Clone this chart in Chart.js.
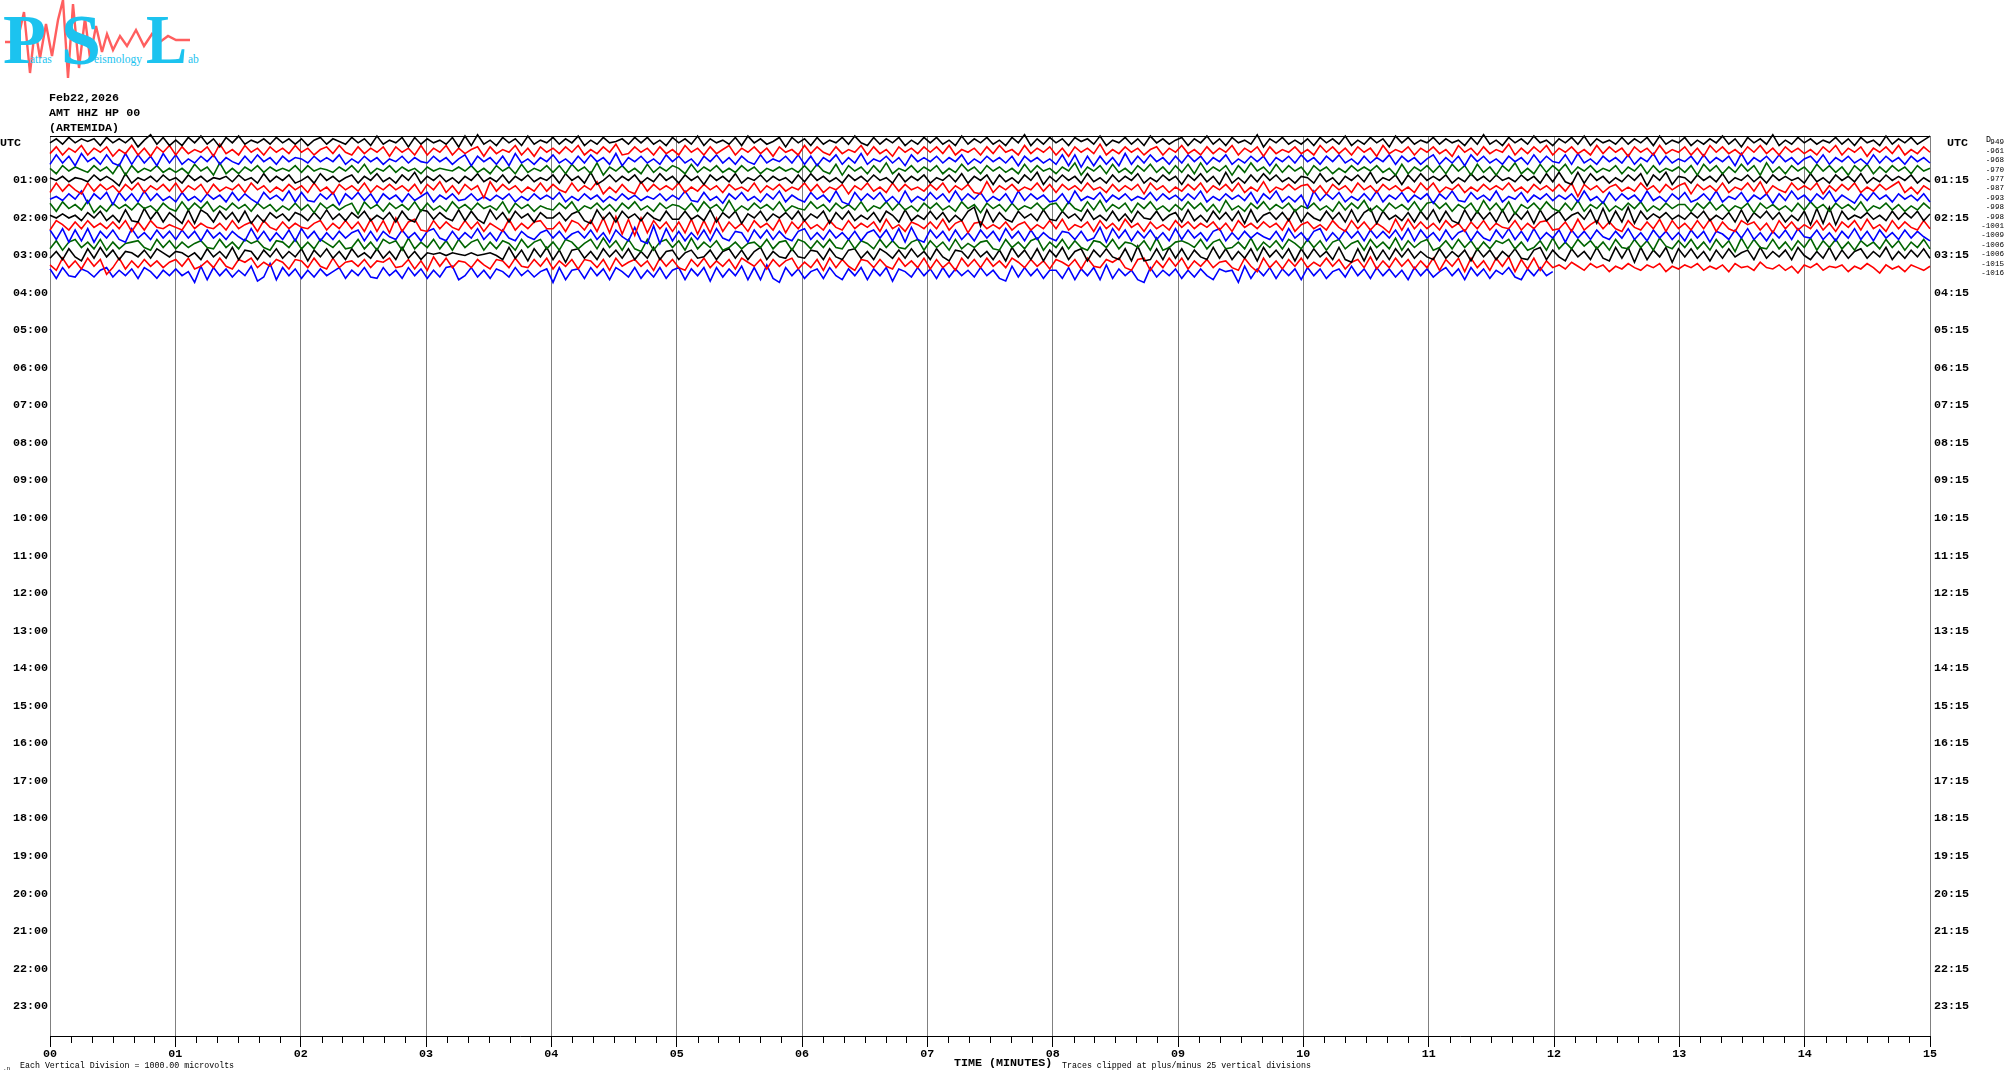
<!DOCTYPE html>
<html>
<head>
<meta charset="utf-8">
<title>AMT HHZ HP 00 helicorder</title>
<script src="https://cdn.jsdelivr.net/npm/chart.js@4"></script>
<style>
  html, body { margin: 0; padding: 0; background: #fff; }
  #wrap { position: relative; width: 2010px; height: 1080px; overflow: hidden; }
  canvas { position: absolute; left: 0; top: 0; }
  .lbl { position: absolute; white-space: pre; color: #000; font-family: "Liberation Mono", monospace; line-height: 1; }
  .big { font-size: 11.7px; font-weight: bold; }
  .small { font-size: 8.3px; }
  #logo { position: absolute; left: 0; top: 0; }
</style>
</head>
<body>
<div id="wrap">
  <svg id="logo" width="204" height="82" viewBox="0 0 204 82">
    <polyline fill="none" stroke="#ff5f5f" stroke-width="2.4" points="5,42 14,42 19,34 24,12 30,73 35,28 40,58 46,24 52,56 58,20 63,0 68,78 73,4 79,68 85,18 90,58 96,26 102,52 107,34 113,50 120,36 127,46 136,30 144,46 152,34 160,42 168,36 176,40 190,40"/>
    <g fill="#1cc3ef" font-family="Liberation Serif, serif" font-weight="bold">
      <text x="3" y="63" font-size="70" textLength="43" lengthAdjust="spacingAndGlyphs">P</text>
      <text x="61" y="64" font-size="72">S</text>
      <text x="146" y="63" font-size="70" textLength="41" lengthAdjust="spacingAndGlyphs">L</text>
    </g>
    <g fill="#1cc3ef" font-family="Liberation Serif, serif" font-size="11.5">
      <text x="30" y="63">atras</text>
      <text x="94" y="63">eismology</text>
      <text x="188" y="63">ab</text>
    </g>
  </svg>
  <canvas id="heli" width="2010" height="1080"></canvas>
  <div class="lbl big" style="left:49px;top:93px">Feb22,2026</div>
  <div class="lbl big" style="left:49px;top:108px">AMT HHZ HP 00</div>
  <div class="lbl big" style="left:49px;top:123px">(ARTEMIDA)</div>
  <div class="lbl big" style="left:0;top:138px">UTC</div>
  <div class="lbl big" style="left:1947px;top:138px">UTC</div>
  <div class="lbl small" style="left:1986px;top:136px">D</div>
  <div class="lbl big" style="left:954px;top:1058px">TIME (MINUTES)</div>
  <div class="lbl small" style="left:1062px;top:1062px">Traces clipped at plus/minus 25 vertical divisions</div>
  <div class="lbl small" style="left:20px;top:1062px">Each Vertical Division = 1000.00 microvolts</div>
  <div class="lbl" style="left:3px;top:1066px;font-size:6px">.n</div>
</div>
<script>
const hourLabelsLeft = ["01:00","02:00","03:00","04:00","05:00","06:00","07:00","08:00","09:00","10:00","11:00","12:00","13:00","14:00","15:00","16:00","17:00","18:00","19:00","20:00","21:00","22:00","23:00"];
const hourLabelsRight = ["01:15","02:15","03:15","04:15","05:15","06:15","07:15","08:15","09:15","10:15","11:15","12:15","13:15","14:15","15:15","16:15","17:15","18:15","19:15","20:15","21:15","22:15","23:15"];
const rowOffsets = ["949","-961","-968","-970","-977","-987","-993","-998","-998","-1001","-1009","-1006","-1006","-1015","-1016"];
const traceColors = ["#000000","#ff0000","#0000ff","#006400"];

// one value per 3 seconds, deviation from the row baseline
const trace0000 = [
-1,2,-2,3,-1,2,0,2,-3,3,-1,2,-1,3,-4,1,5,-2,3,-3,
1,-3,3,-1,4,-2,2,-4,3,-1,4,-2,1,-1,2,-2,3,-1,2,-2,
2,-3,1,3,-2,2,0,-2,3,-1,2,-3,4,-2,1,-1,3,-4,3,-2,
2,-1,1,-2,3,-4,4,-3,5,-2,1,-3,3,-1,2,-3,4,-2,1,-1,
3,-2,2,-1,4,-3,1,-2,3,-1,0,2,-2,3,-1,3,-2,1,-3,3,
-1,2,-2,4,-3,2,-1,1,-2,3,-3,4,-1,2,-2,0,3,-4,3,-1,
2,-3,3,-2,1,-1,3,-2,4,-1,-3,3,-2,2,-1,3,-3,1,-2,3,
-1,3,-2,1,-3,4,-2,2,-1,3,-2,1,-3,3,-1,5,-3,2,-2,3,
-1,2,-3,3,0,2,-2,4,-3,1,-1,3,-2,2,-3,4,-1,2,-2,1,
3,-3,2,-1,4,-2,2,-3,3,-1,1,-2,5,-4,2,-1,3,-2,1,-2,
2,-3,3,-1,2,-2,4,-3,1,-2,3,-1,2,-4,4,-1,3,-2,1,-1,
3,-2,2,-1,1,-3,3,-2,5,-2,1,-3,3,-1,2,-2,4,-1,1,-3,
2,-1,3,-2,4,-3,2,-1,1,-2,3,-2,2,-1,3,-3,4,-2,1,-1,
3,-3,1,-2,2,-1,4,-2,2,-4,3,-1,2,-2,5,-3,1,-2,3,-1,
2,-2,1,-1,3,-2,2,-3,3,-1,1,-3,4,-2,2,-1,3,-2,1,4];
const trace0015 = [
-2,3,-3,2,-1,4,-3,2,-1,3,-4,1,-2,4,-3,2,-4,3,-1,4,
-3,3,-2,1,-1,3,-4,5,-2,1,-3,4,-1,2,-3,3,-1,2,-2,4,
-1,2,-3,1,3,-2,4,-1,-3,3,-2,2,-1,3,-4,3,-1,2,-3,4,
-3,2,-1,4,-3,2,-2,1,3,-4,3,-2,1,-1,4,-3,2,-4,3,-1,
2,-2,3,-1,4,-3,1,-2,3,-1,5,-3,-2,3,-1,2,-3,3,-2,1,
-3,4,-1,2,-3,3,-2,1,4,-3,2,-1,3,-2,2,-4,3,-1,1,-3,
4,-2,3,-1,-3,3,-2,1,-1,4,-3,3,-2,1,-4,3,-1,2,-2,3,
-1,3,-2,4,-3,1,-1,2,-3,3,-2,4,-1,1,-3,4,-2,2,-1,3,
-3,2,-4,3,-1,2,-2,5,-3,1,-2,3,-1,2,-3,1,3,-3,2,-1,
4,-2,1,-3,3,-2,2,-1,4,-3,2,-1,3,-4,3,-2,1,-1,3,-2,
1,-3,4,-1,3,-2,2,-3,3,-1,2,-4,4,-2,1,-1,3,-3,2,-1,
3,-2,1,-4,4,-1,2,-3,3,-2,1,-1,5,-3,2,-2,3,-1,4,-3,
2,-1,3,-2,1,-3,4,-2,3,-1,2,-4,3,-1,2,-3,4,-2,1,-1,
3,-3,2,-4,4,-1,3,-2,1,-3,3,-1,4,-2,2,-3,3,-1,2,-2,
1,-3,3,-1,4,-3,2,-1,3,-4,2,-1,3,-2,4,-3,1,-2,3,-1];
const trace0030 = [
-3,4,-2,3,-4,5,-1,2,-3,4,-2,-4,5,-3,4,-2,3,-4,5,-2,
4,-3,1,-2,3,-1,4,-3,2,-1,-3,3,-2,4,-1,2,-3,3,-1,2,
1,-2,3,-1,2,-1,4,-3,1,-2,3,-1,2,-3,1,-1,3,-2,2,-1,
-2,3,-1,2,-3,1,4,-4,3,-1,2,-3,3,-4,5,-2,1,-3,2,-1,
4,-2,1,-3,3,-2,4,-1,2,-3,5,-4,2,-1,3,-2,1,-3,4,-1,
3,-2,1,-4,3,-1,4,-2,2,-3,3,-1,-3,4,-2,1,-1,3,-2,4,
-3,3,-4,2,-1,4,-3,2,-2,5,-3,1,-1,3,-2,2,-4,4,-1,2,
-1,3,-2,2,-1,4,-3,1,-2,3,-1,2,-2,3,-4,3,-1,2,-2,1,
-3,4,-4,4,-5,3,-4,3,-3,2,-4,5,-3,3,-2,4,-1,2,-3,3,
-2,4,-1,3,-3,2,-1,4,-3,1,-2,3,-1,3,-4,2,-1,3,-2,4,
-1,2,-3,3,-1,4,-2,1,-3,3,-2,2,-1,4,-3,3,-1,2,-3,1,
4,-3,2,-2,3,-4,4,-1,3,-2,1,-3,3,-1,2,-3,4,-2,3,-1,
-2,4,-3,5,-2,1,-3,3,-1,2,-2,4,-3,2,-1,5,-3,3,-2,1,
-1,3,-3,4,-2,2,-1,3,-4,5,-3,2,-1,3,-2,4,-1,2,-3,1,
3,-2,4,-3,2,-1,3,-2,1,-3,4,-2,3,-1,2,-3,3,-1,2,-2];
const trace0045 = [
1,-3,3,-1,2,0,-2,3,-1,2,-3,4,-4,3,-2,1,-1,3,-2,1,
-2,1,-3,4,-1,2,-4,5,-3,1,-3,2,-1,3,-2,2,-1,1,-1,3,
-2,3,-1,1,0,-2,2,-1,3,-2,4,-3,1,-1,3,-2,2,-1,1,-3,
2,-1,1,0,-1,2,-1,3,-2,1,-3,3,-1,2,-3,4,-2,1,-1,3,
-2,3,-3,4,-1,2,-3,5,-4,2,-1,3,-2,1,-3,4,-2,2,-1,3,
1,-3,4,-2,2,-1,3,-2,1,-2,3,-1,2,-3,1,-1,2,-1,1,-2,
3,-2,4,-1,-3,4,-4,3,-1,2,-3,3,-2,5,-3,1,-1,3,-2,2,
-1,3,-3,1,-2,4,-1,2,-3,3,-1,2,-2,1,-3,4,-2,3,-1,1,
-3,2,-1,5,-4,2,-1,3,-3,4,-2,1,-3,3,-1,4,-2,2,-3,3,
-2,4,-3,5,-2,2,-1,3,-4,3,-2,5,-1,2,-3,4,-2,3,-1,2,
-4,3,-1,2,-3,1,-2,3,-1,2,-1,3,-2,1,-4,4,-3,2,-1,3,
-2,3,-3,4,-1,3,-4,4,-2,2,-4,3,-1,5,-3,1,-3,4,-2,3,
-1,4,-3,2,-1,3,-2,1,-1,3,-3,2,-1,4,-3,3,-2,1,-1,2,
-2,3,-4,4,-1,3,-3,2,-2,4,-1,3,-4,5,-2,2,-3,3,-1,2,
-3,4,-1,3,-2,2,-4,3,-1,4,-3,2,-2,3,-1,2,-3,3,-1,1];
const trace0100 = [
1,-1,2,-2,1,0,-2,3,-1,2,-1,-5,4,-3,1,-1,2,-2,3,-1,
1,-3,3,-1,2,-2,1,0,2,-2,3,-1,1,-3,4,-2,2,-1,3,-3,
-1,2,-3,4,-1,2,-2,1,3,-3,2,-1,4,-2,1,-3,3,-1,5,-3,
2,-1,3,-2,1,-3,2,-1,4,-2,1,-2,3,-3,2,-1,3,-2,1,-1,
3,-3,4,-1,2,-3,5,-4,-1,3,-2,2,-1,3,-3,1,-2,4,-1,2,
-3,3,-1,2,-4,3,-1,2,-2,4,-3,1,-1,3,-2,2,-1,1,-3,3,
-2,4,-1,2,-2,1,-3,3,-1,2,-2,3,-1,1,-3,4,-2,2,-1,3,
-3,1,-1,3,-2,4,-3,2,-1,3,-4,3,-2,1,-3,3,-1,5,-4,2,
-2,3,-1,2,-3,4,-2,1,-3,3,-2,2,-1,4,-3,1,-2,3,-1,2,
-4,3,-1,4,-2,2,-4,5,-3,1,-3,3,-2,4,-1,3,-2,1,-3,2,
1,-3,4,-2,1,-4,2,-1,3,-2,5,-3,1,-1,3,-4,3,-2,4,-1,
2,-1,3,-3,1,-2,4,-1,2,-2,3,-1,1,-2,3,-1,2,-3,4,-2,
5,-2,-4,5,-3,4,-1,2,-3,1,-2,3,-1,4,-5,3,-1,5,-4,2,
1,-3,3,-1,2,-2,4,-3,1,-1,3,-2,2,-3,3,-1,2,-1,1,-3,
4,-2,1,-3,3,-1,2,-2,4,-3,1,-2,3,-1,2,-1,3,-3,1,-2];
const trace0115 = [
-3,4,-2,3,-1,-4,4,-2,3,-1,2,-3,3,-1,4,-3,2,-1,3,-2,
4,-3,2,-1,3,-4,3,-2,1,-1,3,-3,4,-1,2,-3,1,-2,3,-1,
2,-3,4,-2,1,-4,3,-1,2,-2,4,-3,2,-1,3,-1,2,-2,3,-4,
3,-1,5,-3,2,-4,3,-1,2,-7,5,-2,3,-1,2,-3,1,-2,4,-2,
3,-1,-3,4,-2,2,-1,5,-4,1,-3,3,-2,-4,5,-2,3,-1,2,-1,
4,-3,1,-2,3,-1,2,-3,3,-1,1,-2,4,-3,2,-1,3,-2,1,-1,
4,-2,3,-3,1,-1,3,-4,2,-1,4,-2,1,-3,4,-2,3,-1,1,-2,
3,-1,4,-3,2,-1,3,-3,-4,5,-3,2,-1,3,-2,1,-1,4,-2,3,
-3,3,-1,2,-2,4,-1,1,-3,3,-2,2,-1,3,-4,4,-1,2,-3,1,
-2,3,-1,4,-3,2,-1,3,-2,4,-3,1,-2,5,-3,1,-1,3,-1,2,
3,-3,2,-4,3,-1,2,-3,4,-1,2,-3,3,-1,2,-2,1,-3,4,-1,
4,-3,1,-1,3,-3,1,-2,3,-1,2,-1,4,-2,1,-3,3,-1,2,-2,
3,-2,4,-6,3,-1,2,-3,1,3,-2,1,-2,4,-1,2,-3,3,-1,2,
4,-4,3,-1,2,-2,4,-3,1,-1,4,-2,5,-4,2,-1,-3,4,-1,2,
-1,4,-4,2,-2,3,-1,4,-3,1,-2,3,-1,2,5,-3,1,-4,2,-1];
const trace0130 = [
-1,1,-2,3,-1,5,-4,3,-1,4,-5,4,-2,3,-3,5,-2,3,-2,1,
-3,4,-2,1,-3,3,-1,2,-3,4,-2,3,-1,-4,4,-1,2,-2,5,-3,
4,-2,-3,3,-1,4,-5,3,-1,4,-2,3,-4,3,-1,2,-3,3,-2,1,
4,-3,2,-1,3,-2,-1,3,-2,1,-2,2,-1,3,-3,1,-2,3,-1,2,
-1,4,-3,1,-2,3,-1,2,-3,1,-2,3,-1,2,-2,1,-1,3,-2,2,
-1,5,-2,-3,4,-2,1,-4,3,-1,4,-2,1,-3,3,-1,5,-3,2,-1,
-3,4,-1,2,-3,5,-3,-5,4,-2,3,-1,4,-3,1,-4,5,-3,1,-2,
4,-1,3,-3,5,-2,3,-1,4,-3,1,-2,3,-4,5,-2,3,-1,2,-3,
-2,3,-4,5,-2,1,-1,4,-3,2,-1,3,-2,1,-1,4,-2,3,-1,2,
-2,3,-1,5,-3,1,-2,3,-1,2,-2,4,-4,3,-1,5,-3,1,-3,2,
-7,5,-2,3,-1,4,-3,1,-2,3,-2,5,-3,2,-1,4,-3,2,-1,3,
-4,3,-1,5,-2,-3,4,-1,2,-2,5,-3,1,-1,4,-3,2,-1,3,-2,
2,-1,3,-3,5,-2,1,-4,4,-2,3,-1,2,-3,5,-2,1,-3,3,-1,
4,-3,-1,3,-2,5,-3,1,-1,4,-3,2,-1,3,-4,3,-2,5,-1,2,
-3,3,-1,5,-3,2,-1,-4,3,-2,4,-1,2,-3,3,-1,2,-2,3,-3];
const trace0145 = [
3,-3,4,-1,2,-2,5,-4,1,-3,3,-1,2,-2,3,-1,1,-3,3,-1,
-3,4,-2,3,-1,4,-3,1,-2,3,-1,2,-3,3,-1,2,-3,1,-2,3,
-2,2,-4,3,-1,2,-2,1,3,-5,4,-1,2,-3,3,-1,2,-2,4,-3,
3,-2,1,-3,4,-1,2,-2,3,-1,1,-2,4,-4,3,-1,2,-3,1,-1,
-2,3,-1,4,-3,1,-1,3,-2,2,-3,3,-1,4,-2,1,-3,3,-1,2,
1,-2,3,-3,4,-1,2,-3,5,-3,1,-2,3,-1,2,-2,4,-3,1,-1,
-2,4,-1,2,-3,3,-1,2,-2,4,-3,1,-1,4,-2,3,-2,1,-3,3,
-1,3,-2,1,-3,4,-1,2,-4,3,-1,2,-3,3,-2,1,-1,3,-2,2,
3,-3,4,-1,-3,4,-2,5,-3,2,-1,3,-4,3,-1,4,-2,1,-3,2,
-2,4,-1,3,-3,2,-4,5,-2,1,-3,3,-1,4,-2,2,-1,3,-3,1,
-1,3,-2,1,-3,4,-2,3,-1,5,-3,1,-3,3,-1,2,-2,4,-3,3,
4,-1,3,-3,2,-1,3,-4,5,-2,3,-3,4,-5,2,-1,3,-2,4,-1,
-3,3,-2,5,-3,2,-1,4,-3,1,-2,3,-1,4,-3,1,-2,3,-1,2,
2,-3,3,-1,4,-2,2,-3,1,-1,3,-4,3,-1,2,-2,1,-3,3,-2,
4,-1,2,-3,3,-1,2,-2,4,-3,1,-1,3,-2,2,-3,1,-2,3,-1];
const trace0200 = [
1,-1,2,-1,1,-3,3,-1,4,-3,1,-4,5,-3,-4,6,-2,4,-4,3,
-1,-5,5,-5,5,2,-4,4,-2,3,-4,4,-5,1,-4,3,-1,2,-3,3,
1,-3,3,-2,5,-2,2,-3,3,-1,4,-3,1,-2,3,-4,4,-2,-4,5,
4,-2,3,-1,-3,5,-3,4,-2,-5,5,-2,3,-4,4,-1,2,-4,3,-1,
-1,3,-3,2,4,-3,-5,5,-2,3,-4,4,-1,2,-3,3,-1,-3,4,-2,
-2,4,-2,1,-3,5,-4,3,-1,4,-5,2,-1,4,-3,2,-1,3,-2,4,
-3,2,-1,4,-5,3,-2,4,-3,1,-2,3,-4,4,1,-4,5,-3,1,-2,
4,-2,3,-4,1,-3,4,7,-7,5,-4,3,-2,-4,4,-1,2,-3,5,-2,
-3,4,-1,2,-3,5,-2,1,-3,4,-3,2,-4,4,-1,-2,4,-3,1,3,
-4,5,-3,1,-4,4,-2,3,-3,4,-5,5,-4,1,3,-2,3,-3,5,-4,
3,-1,-3,4,-2,3,-4,5,-4,3,6,-5,4,-2,1,-3,3,-4,4,-2,
5,-4,4,-3,-5,5,-3,4,-2,3,-4,5,-4,3,-2,4,-5,5,-3,1,
4,-3,1,3,-2,5,-5,6,-5,4,-4,7,-5,4,-2,2,-1,3,-2,1,
-2,3,-1,4,-3,1,-2,3,-4,5,-4,3,-1,4,-2,3,-4,1,-3,4,
-6,6,-5,7,-6,4,-2,1,-1,3,-2,1,-3,4,-2,3,-1,4,-3,2];
const trace0215 = [
-3,4,1,-3,3,-2,4,-1,2,-2,3,-2,4,-4,3,-3,4,-1,-2,1,
-1,-3,4,-2,2,-1,-2,2,-3,4,-2,1,3,-4,4,-1,-3,3,-2,2,
-1,-2,2,4,-3,2,-2,4,-2,3,-4,5,-4,4,-5,6,-4,3,5,-3,
-4,4,-2,3,-1,-3,4,-2,3,-4,2,-1,-4,5,-3,2,-2,3,4,-2,
-2,3,-4,4,2,-3,4,-4,6,-5,7,-6,5,-7,6,-5,4,-2,3,-4,
3,-5,5,-6,4,-5,6,-4,3,-2,2,-4,4,-1,2,-3,5,-5,3,-2,
4,-2,1,-3,4,-1,-3,4,-2,2,-1,3,-4,5,-2,1,-4,3,1,-2,
3,-2,5,-3,2,4,-5,2,3,-2,1,-2,3,-3,1,3,-3,1,-2,4,
-2,5,-3,1,-1,3,-4,4,-2,2,-3,5,-1,2,-4,3,-2,1,-3,4,
-1,3,-2,2,-1,3,-3,2,-4,4,-1,2,-2,3,-1,2,-3,5,-4,1,
3,-2,1,-3,4,-1,-4,4,-2,3,-3,2,-1,-5,5,-3,5,-2,3,-2,
2,-3,4,-1,2,-4,3,-2,4,-3,2,-1,-2,4,-3,2,-2,3,4,-3,
-2,3,-4,5,-3,1,4,-2,3,-2,-4,4,-1,-3,3,-2,5,-4,4,-2,
2,-3,4,-2,5,-4,3,-2,-4,4,1,3,-3,2,-5,4,-2,3,-3,1,
-2,4,-3,2,-4,3,-1,4,-3,5,-2,1,-4,4,-2,3,-1,-3,4,-2];
const trace0230 = [
4,-3,5,-5,4,-4,5,-5,3,-2,4,-3,-5,5,-2,2,-3,4,-2,3,
-3,4,-2,3,-4,4,-2,2,-3,3,-1,-4,5,-3,3,-4,2,-3,4,-4,
5,-2,3,-4,2,-3,3,-2,2,4,-4,3,-4,3,-1,-3,4,-2,2,-4,
3,5,-2,-4,3,-3,2,-2,5,-3,2,-4,4,-2,-4,3,-1,-3,2,4,
-2,3,-3,1,3,-2,4,-3,2,-5,4,-1,-4,6,-4,-6,7,-6,5,-4,
3,-4,2,-3,4,-4,5,-2,-4,3,2,-5,4,-2,4,-3,3,-2,-4,3,
5,-3,2,-3,4,-2,2,-3,3,-4,2,4,-2,4,-4,5,-5,6,-3,-5,
4,-2,3,-4,4,-3,2,-4,4,-2,3,-4,5,-2,3,-4,4,-3,2,-2,
-4,3,2,-3,3,-4,-2,6,-5,5,-2,4,-4,3,-2,4,-3,2,-4,5,
-3,4,-2,2,-4,3,5,-4,2,-3,3,-2,2,-1,-3,3,-4,5,-2,2,
-4,3,5,-4,2,-3,4,-2,3,-4,4,-2,3,-2,4,-3,5,-4,4,-2,
2,-4,4,-3,2,4,-4,3,-2,-4,4,-2,5,-3,3,-4,5,-3,2,-2,
4,-5,4,-2,3,-3,4,-1,-3,3,-2,5,-3,2,-4,4,-2,3,-3,2,
-4,4,-2,3,-5,3,1,-3,4,-2,5,-3,2,-4,3,-2,4,-3,5,-1,
-2,4,-3,2,-4,3,-2,5,-3,3,-4,4,-2,2,-3,4,-2,3,-1,-4];
const trace0245 = [
-3,3,-4,2,4,-2,2,-3,4,-4,2,-3,1,2,3,-2,-4,4,-2,3,
-3,2,-2,1,3,-2,-3,4,-2,2,-3,4,1,3,-2,-4,3,2,-2,4,
-3,2,-3,4,1,-2,3,-3,-2,4,-3,2,-4,4,1,3,-4,5,-3,2,
-2,4,-3,3,-4,4,-2,2,4,-4,2,-3,3,1,-4,4,-2,2,4,-3,
2,-4,4,2,-3,1,4,-3,5,-2,3,-4,4,-3,-5,4,-4,2,4,-2,
3,-4,5,-3,2,-2,3,-4,-2,2,-3,1,2,-2,4,-3,2,3,-4,4,
2,-3,3,-2,4,-2,-3,4,-3,3,1,-3,4,-2,3,-2,-3,2,4,-4,
3,-2,2,-4,4,-3,1,-2,2,3,-3,-4,4,-2,2,-3,3,5,-4,2,
-2,4,-3,3,-2,-4,3,2,-2,4,-3,2,1,-2,3,-4,5,-4,-2,2,
3,1,-2,4,-3,2,4,-3,-2,2,-3,5,-4,2,-2,3,-3,4,1,-3,
4,-2,3,-4,2,4,-3,1,3,-4,4,-2,2,-3,5,-4,3,-2,2,4,
-4,-2,3,-3,4,-2,3,-4,2,-3,3,1,4,-3,2,-4,-2,3,-4,5,
-3,2,-3,4,-1,3,-3,2,-4,4,-2,-3,4,-2,3,-4,5,-1,-3,3,
-2,4,-3,2,-4,4,-2,3,-5,5,-3,4,-2,-3,4,-3,2,-4,3,-2,
5,-4,3,-2,4,-3,2,-4,3,-1,2,-3,4,-2,3,-4,2,-2,4,-3];
const trace0300 = [
-3,2,-4,4,-2,-5,4,-3,5,-2,3,-4,2,1,-2,3,-3,4,1,-2,
2,1,-2,1,-4,4,-2,2,-3,5,-4,3,2,-4,3,-2,4,-3,2,-2,
4,-5,3,-2,4,-3,2,-4,4,-2,1,-3,4,-3,2,-4,5,-3,2,-4,
1,0,1,-1,1,0,-1,1,-1,0,1,-1,-4,5,-3,3,-5,4,-2,5,
-4,3,-6,3,4,-3,2,-4,4,-2,3,-3,4,-4,2,-3,5,-4,2,3,
-4,1,3,-3,-2,3,-4,2,4,-3,3,-4,2,5,-4,2,-2,-3,4,-2,
-3,3,2,-4,4,-2,-4,3,4,-3,2,-4,4,1,-3,3,-3,4,-2,2,
-4,4,-2,-5,3,2,-3,4,-2,2,-4,3,-5,5,-2,3,-4,4,-5,3,
-2,5,-4,2,4,-5,3,-2,4,-2,-4,4,-5,6,-5,-4,4,-4,5,-3,
4,-4,3,-2,-4,5,-3,4,-4,2,-3,4,-5,5,-2,3,-3,4,-5,4,
-3,4,-2,2,-4,5,-4,-6,4,-5,5,-4,3,-4,4,-2,4,-3,2,-2,
-4,4,-3,2,-2,3,-5,4,-2,3,-4,2,-2,4,-3,-4,3,5,-4,3,
-2,-5,4,-2,2,-4,5,-3,-5,5,-3,5,-6,5,-4,3,-2,5,-6,4,
-2,4,-3,2,-5,3,-3,4,-2,1,3,-4,5,-3,2,-2,3,-4,5,-1,
-4,2,-3,5,-4,3,-3,2,4,-3,2,-2,5,-4,2,-3,3,-2,4,-3];
const trace0315 = [
-1,-5,4,-3,2,-4,4,-2,3,-8,-3,4,-4,2,-3,3,-2,2,-3,1,
3,-2,4,-4,-2,2,-3,4,-2,-4,3,1,4,-3,1,-2,3,1,-4,3,
2,-3,4,-2,-4,4,-3,1,2,-2,3,-3,2,1,4,-3,-2,3,-4,2,
-5,5,-2,4,-3,2,1,-3,3,-1,-4,3,2,-3,4,-2,-3,3,-2,4,
-4,2,-2,3,-4,3,2,-3,3,-5,4,-2,1,3,-2,2,-5,4,-2,3,
-3,-5,3,-2,4,-3,2,-2,3,-4,4,1,-2,3,-4,3,-2,2,4,-4,
1,-3,3,-5,4,-3,3,-2,-5,3,2,-3,3,-2,-4,4,-2,2,-3,4,
-4,3,-3,1,-5,4,-2,3,-3,4,-2,2,-3,4,1,-3,3,-2,2,-4,
3,1,-2,3,-4,4,-2,-3,3,1,4,-3,-5,3,4,-5,2,-3,4,-2,
4,-4,2,-2,3,-3,1,2,-3,-5,4,-2,-6,4,-3,2,-4,3,-2,4,
-3,1,-2,4,-2,3,-4,1,3,-3,5,-4,2,-3,4,-2,3,-4,2,-3,
4,-5,3,-2,4,-6,4,-3,2,-5,4,-2,5,-6,3,-4,4,-5,2,-3,
-1,-4,1,-2,-5,0,-3,-1,-6,-2,-4,0,-3,-5,-1,-3,0,-6,-2,-4,
-1,-3,0,-5,-2,-4,-1,-6,0,-3,-2,-5,1,-3,-4,-1,-5,-2,-7,-1,
-3,0,-5,-2,-3,-1,-6,-2,-4,0,-3,-7,-1,-4,-2,-6,-1,-3,-5,-2];
const trace0330 = [
3,-4,4,-2,-3,3,1,-3,2,4,-3,2,-2,3,-4,4,1,-4,2,-2,
3,-2,1,-7,5,-5,4,-2,3,-3,2,-2,5,-6,-3,7,-5,4,-2,3,
-4,2,-3,3,-2,1,4,-4,2,-2,4,-3,-4,4,-2,2,-4,4,-2,3,
-4,2,-3,4,5,-5,-2,4,-3,2,-4,3,1,-3,4,-2,2,-3,1,3,
-7,4,-5,2,3,-4,4,-2,3,-5,4,1,-3,4,-4,2,-3,4,-4,2,
4,-5,3,-2,4,-6,4,-3,3,-2,5,-5,4,-5,6,-4,-7,4,-2,3,
-4,1,3,-4,4,-2,-5,3,-2,4,-5,3,-2,4,-6,3,1,-3,4,-2,
3,-4,4,-3,3,-2,2,-3,4,-2,2,-4,-6,5,-3,4,-2,3,-4,2,
2,-4,4,-5,3,-2,4,-5,6,-4,3,-2,2,-5,-7,4,-3,2,-2,3,
-4,2,-3,3,-2,-5,3,1,2,-7,5,-4,3,-2,4,-4,3,-2,3,-5,
4,-2,3,-4,1,3,-3,5,-2,3,-4,4,-2,3,-3,2,-5,4,-2,3,
-3,1,4,-2,3,-5,4,-2,3,-4,2,-1,4,-3,-5,3,-2,4,-2,1];

const traces = [trace0000,trace0015,trace0030,trace0045,trace0100,trace0115,trace0130,trace0145,
                trace0200,trace0215,trace0230,trace0245,trace0300,trace0315,trace0330];

const MINUTES = 15;
const SAMPLE_STEP = MINUTES / 299;
const MINOR_PER_MINUTE = 6;
const ROW_PX = 9.39;
const GAIN = 1.35;     // one unit of deviation in screen pixels
const ROW_MIN = -0.586;
const ROW_MAX = 95.26;
const LABEL_NUDGE = 0.1;

const tickFont = { family: "'Liberation Mono', monospace", size: 11.7, weight: "bold" };

const datasets = traces.map((trace, row) => ({
  label: String(row),
  data: trace.map((v, i) => ({ x: i * SAMPLE_STEP, y: row - v * GAIN / ROW_PX })),
  borderColor: traceColors[row % 4],
  borderWidth: 1.6,
  pointRadius: 0,
  tension: 0,
  clip: false
}));

function rowScale(opts) {
  return Object.assign({
    type: "linear",
    reverse: true,
    min: ROW_MIN,
    max: ROW_MAX,
    grid: { display: false, drawTicks: false },
    border: { display: false }
  }, opts);
}

const hourTicks = scale => { scale.ticks = hourLabelsLeft.map((_, i) => ({ value: (i + 1) * 4 + LABEL_NUDGE })); };
const hourIndex = v => Math.round((v - LABEL_NUDGE) / 4) - 1;

// top line and the short 10 second ticks
const framePlugin = {
  id: "frame",
  afterDraw(chart) {
    const { ctx, chartArea, scales } = chart;
    ctx.save();
    ctx.strokeStyle = "#000";
    ctx.lineWidth = 1;
    ctx.beginPath();
    ctx.moveTo(chartArea.left, chartArea.top + 0.5);
    ctx.lineTo(chartArea.right, chartArea.top + 0.5);
    for (let i = 1; i < MINUTES * MINOR_PER_MINUTE; i++) {
      if (i % MINOR_PER_MINUTE === 0) continue;
      const px = Math.round(scales.x.getPixelForValue(i / MINOR_PER_MINUTE)) + 0.5;
      ctx.moveTo(px, chartArea.bottom);
      ctx.lineTo(px, chartArea.bottom + 7);
    }
    ctx.stroke();
    ctx.restore();
  }
};

new Chart(document.getElementById("heli"), {
  type: "line",
  data: { datasets },
  plugins: [framePlugin],
  options: {
    responsive: false,
    animation: false,
    layout: { padding: { top: 136, left: 0, right: 6, bottom: 0 } },
    plugins: { legend: { display: false }, tooltip: { enabled: false } },
    scales: {
      x: {
        type: "linear",
        min: 0,
        max: MINUTES,
        afterFit: s => { s.height = 44; },
        border: { color: "#000", width: 1 },
        grid: { color: "#808080", lineWidth: 1, tickColor: "#000", tickLength: 11 },
        ticks: {
          stepSize: 1,
          padding: 0,
          maxRotation: 0,
          autoSkip: false,
          color: "#000",
          font: tickFont,
          callback: v => String(v).padStart(2, "0")
        }
      },
      y: rowScale({
        position: "left",
        afterFit: s => { s.width = 50; },
        afterBuildTicks: hourTicks,
        ticks: { padding: 2, color: "#000", font: tickFont, autoSkip: false,
                 callback: v => hourLabelsLeft[hourIndex(v)] }
      }),
      yTime: rowScale({
        position: "right",
        weight: 0,
        afterFit: s => { s.width = 40; },
        afterBuildTicks: hourTicks,
        ticks: { padding: 4, color: "#000", font: tickFont, autoSkip: false,
                 callback: v => hourLabelsRight[hourIndex(v)] }
      }),
      yOffset: rowScale({
        position: "right",
        weight: 1,
        afterFit: s => { s.width = 34; },
        afterBuildTicks: s => { s.ticks = rowOffsets.map((_, i) => ({ value: i })); },
        ticks: { padding: 2, crossAlign: "far", color: "#000", autoSkip: false,
                 font: { family: "'Liberation Mono', monospace", size: 7.6 },
                 callback: v => rowOffsets[v] }
      })
    }
  }
});
</script>
</body>
</html>
